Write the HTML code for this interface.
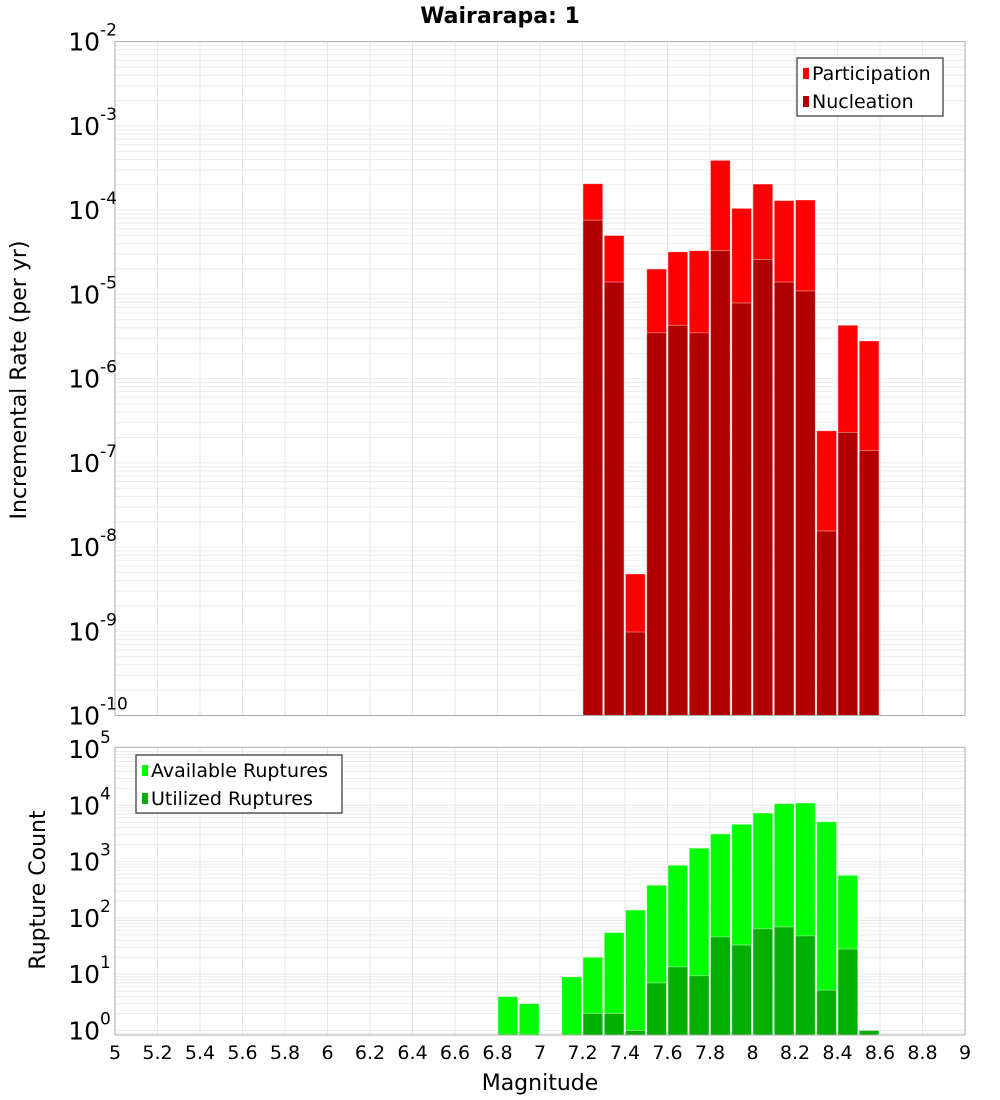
<!DOCTYPE html>
<html><head><meta charset="utf-8"><style>
html,body{margin:0;padding:0;background:#fff;}
svg{display:block;font-family:"DejaVu Sans","Liberation Sans",sans-serif;}
</style></head><body>
<svg id="chart" width="1000" height="1100" viewBox="0 0 1000 1100">
<text x="500" y="23" text-anchor="middle" font-size="22" font-weight="bold">Wairarapa: 1</text>
<g id="topPanel"></g>
<g id="botPanel"></g>
<g id="xax"></g>
<text x="540" y="1090" text-anchor="middle" font-size="22">Magnitude</text>
<text transform="translate(26,380) rotate(-90)" text-anchor="middle" font-size="22">Incremental Rate (per yr)</text>
<text transform="translate(45,890) rotate(-90)" text-anchor="middle" font-size="22">Rupture Count</text>
</svg>
<script>
const mags = [6.8,6.9,7.0,7.1,7.2,7.3,7.4,7.5,7.6,7.7,7.8,7.9,8.0,8.1,8.2,8.3,8.4,8.5];
const participation = [0,0,0,0,2.06e-4,5.0e-5,4.8e-9,2.0e-5,3.2e-5,3.3e-5,3.9e-4,1.05e-4,2.04e-4,1.3e-4,1.32e-4,2.4e-7,4.3e-6,2.8e-6];
const nucleation = [0,0,0,0,7.6e-5,1.4e-5,9.8e-10,3.5e-6,4.3e-6,3.5e-6,3.3e-5,7.9e-6,2.6e-5,1.4e-5,1.1e-5,1.55e-8,2.3e-7,1.4e-7];
const available = [4,3,0,9,20,55,138,380,860,1730,3100,4600,7300,10700,11000,5100,570,0];
const utilized = [0,0,0,0,2,2,1,7,13.5,9.4,46,33,64,69,48,5.2,28,1];
const xTicks = ["5","5.2","5.4","5.6","5.8","6","6.2","6.4","6.6","6.8","7","7.2","7.4","7.6","7.8","8","8.2","8.4","8.6","8.8","9"];
const topExp = [-2,-3,-4,-5,-6,-7,-8,-9,-10];
const botExp = [5,4,3,2,1,0];

const NS="http://www.w3.org/2000/svg";
const X0=115,X1=965;
const xs=m=>X0+(m-5)/4*(X1-X0);
const TT=41.7,TB=715.5;
const yTop=v=>TT+(-2-Math.log10(v))*(TB-TT)/8;
const BT=747.3,BB=1035,BDEC=56.3,B0=1030.5;
const yBot=v=>B0-Math.log10(v)*BDEC;
function mk(p,tag,a){const e=document.createElementNS(NS,tag);for(const k in a)e.setAttribute(k,a[k]);p.appendChild(e);return e;}

function grid(g,t0,b0,yf,expLo,expHi){
  for(let e=expLo;e<=expHi;e++)for(let k=1;k<10;k++){const y=yf(k*Math.pow(10,e));if(y<t0-0.5||y>b0+0.5)continue;
    const l=mk(g,'line',{x1:X0,x2:X1,y1:y,y2:y,stroke:'#ebebeb','stroke-width':1});
    
    }
  xTicks.forEach(t=>{const x=xs(+t);const l=mk(g,'line',{x1:x,x2:x,y1:t0,y2:b0,stroke:'#e6e6e6','stroke-width':1});
    
    });
}
const W=(X1-X0)/40;
function bars(g,vals,yf,bottom,color,name){
  vals.forEach((v,i)=>{if(!v)return;const x=xs(mags[i]);const y=yf(v);
    const r=mk(g,'rect',{x:x+0.5,y:y,width:W-1.5,height:bottom-y,fill:color,stroke:'rgba(255,255,255,0.5)','stroke-width':0.8});
    
    });
}
function ylab(g,exps,yf,x){
  exps.forEach(e=>{const y=yf(Math.pow(10,e));
    const t=mk(g,'text',{x:x,y:y+9,'font-size':25,'text-anchor':'end'});
    
    
    t.textContent='10';
    const s=mk(g,'text',{x:x,y:y-6,'font-size':17});
    
    
    s.textContent=String(e);});
}
function legend(g,x,y,w,items){
  const b=mk(g,'rect',{x:x,y:y,width:w,height:58,fill:'#fff',stroke:'#333','stroke-width':1.2});
  
  
  items.forEach((it,i)=>{const cy=y+15+i*28;
    const s=mk(g,'rect',{x:x+6,y:cy-5,width:6,height:11,fill:it[1]});
    
    
    const t=mk(g,'text',{x:x+15,y:cy+7,'font-size':19});
    
    
    t.textContent=it[0];});
}
const gTop=document.getElementById('topPanel'),gBot=document.getElementById('botPanel'),xax=document.getElementById('xax');
grid(gTop,TT,TB,yTop,-10,-3);
bars(gTop,participation,yTop,TB,'#ff0000','participation');
bars(gTop,nucleation,yTop,TB,'#b20000','nucleation');
const f1=mk(gTop,'rect',{x:X0,y:TT,width:X1-X0,height:TB-TT,fill:'none',stroke:'#aaa','stroke-width':1});


ylab(gTop,topExp,yTop,100);
legend(gTop,797,58,146,[['Participation','#ff0000'],['Nucleation','#b20000']]);

grid(gBot,BT,BB,yBot,-1,4);
bars(gBot,available,yBot,BB,'#00ff00','available');
bars(gBot,utilized,yBot,BB,'#00b000','utilized');
const f2=mk(gBot,'rect',{x:X0,y:BT,width:X1-X0,height:BB-BT,fill:'none',stroke:'#aaa','stroke-width':1});


ylab(gBot,botExp,yBot,100);
legend(gBot,136,755,206,[['Available Ruptures','#00ff00'],['Utilized Ruptures','#00b000']]);

xTicks.forEach(t=>{const e=mk(xax,'text',{x:xs(+t),y:1059,'font-size':19,'text-anchor':'middle'});
  
  
  e.textContent=t;});
</script>
</body></html>
